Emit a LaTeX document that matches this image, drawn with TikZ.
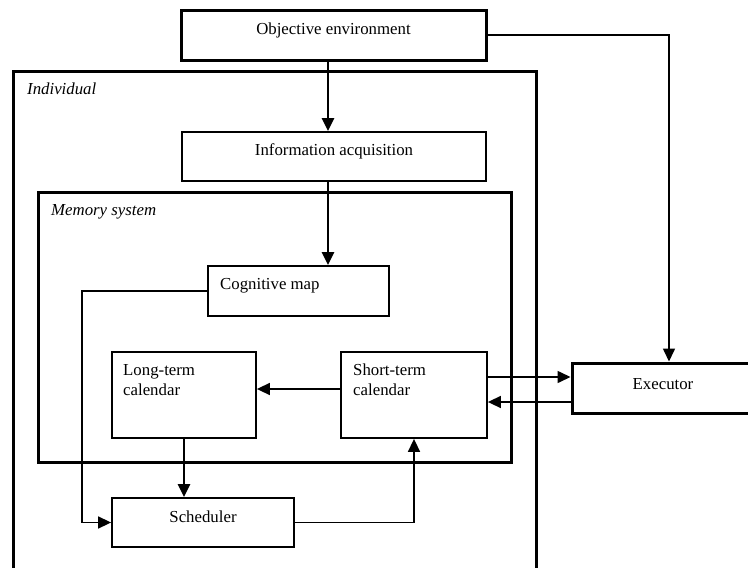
\documentclass[tikz,border=0pt]{standalone}
\usepackage{fontspec}
\setmainfont{Liberation Serif}
\usetikzlibrary{arrows.meta,calc}
\begin{document}
\begin{tikzpicture}[x=1pt,y=-1pt,
  frame/.style={draw=black,line width=3pt,rectangle,inner sep=0pt},
  box/.style={draw=black,line width=1.8pt,rectangle,inner sep=0pt,fill=white},
  lbl/.style={inner sep=0pt,font=\fontsize{16.8}{20}\selectfont},
  conn/.style={line width=1.6pt,-{Triangle[length=13pt,width=12pt]}},
  heavy/.style={line width=2.3pt}]
\useasboundingbox (0,0) rectangle (748,568);
\fill[white] (0,0) rectangle (748,568);
% frames
\node[frame,minimum width=523pt,minimum height=514pt] (ind) at (274.5,328) {};
\node[lbl,anchor=west,font=\fontsize{16.8}{20}\selectfont\itshape] (indlbl) at (27,89) {Individual};
\node[frame,minimum width=473pt,minimum height=270pt] (mem) at (274.5,327) {};
\node[lbl,anchor=west,font=\fontsize{16.8}{20}\selectfont\itshape] (memlbl) at (51,212) {Memory system};
% boxes
\node[frame,fill=white,minimum width=305pt,minimum height=50pt] (obj) at (333.5,35) {};
\node[lbl] (objt) at (333.5,30) {Objective environment};
\node[box,minimum width=304pt,minimum height=49pt] (info) at (334,156.5) {};
\node[lbl] (infot) at (334,151) {Information acquisition};
\node[box,minimum width=181pt,minimum height=50pt] (cog) at (298.5,291) {};
\node[lbl,anchor=west] (cogt) at (220,286) {Cognitive map};
\node[box,minimum width=144pt,minimum height=86pt] (long) at (184,395) {};
\node[lbl,anchor=west,align=left] (longt) at (123,380) {Long-term\\calendar};
\node[box,minimum width=146pt,minimum height=86pt] (short) at (414,395) {};
\node[lbl,anchor=west,align=left] (shortt) at (353,380) {Short-term\\calendar};
\node[box,minimum width=182pt,minimum height=49pt] (sched) at (203,522.5) {};
\node[lbl] (schedt) at (203,517) {Scheduler};
\node[frame,fill=white,minimum width=182pt,minimum height=50pt] (exec) at (663,388) {};
\node[lbl] (exect) at (663,384) {Executor};
% connectors
\coordinate (cl) at (82,0);
\coordinate (ax) at (328,0);
\coordinate (ex) at (669,0);
\draw[conn,heavy] (obj.south -| ax) -- (info.north -| ax);
\draw[conn,heavy] (info.south -| ax) -- (cog.north -| ax);
\draw[conn] (obj.east) -| (exec.north -| ex);
\draw[conn] ($(short.east)+(0,-18)$) -- ($(exec.west)+(0,-11)$);
\draw[conn] ($(exec.west)+(0,14)$) -- ($(short.east)+(0,7)$);
\draw[conn] ($(short.west)+(0,-6)$) -- ($(long.east)+(0,-6)$);
\draw[conn,heavy] (long.south) -- (long.south |- sched.north);
\draw[conn] (cog.west) -- (cog.west -| cl) |- (sched.west);
\draw[conn] (sched.east) -| (short.south);
\end{tikzpicture}
\end{document}
